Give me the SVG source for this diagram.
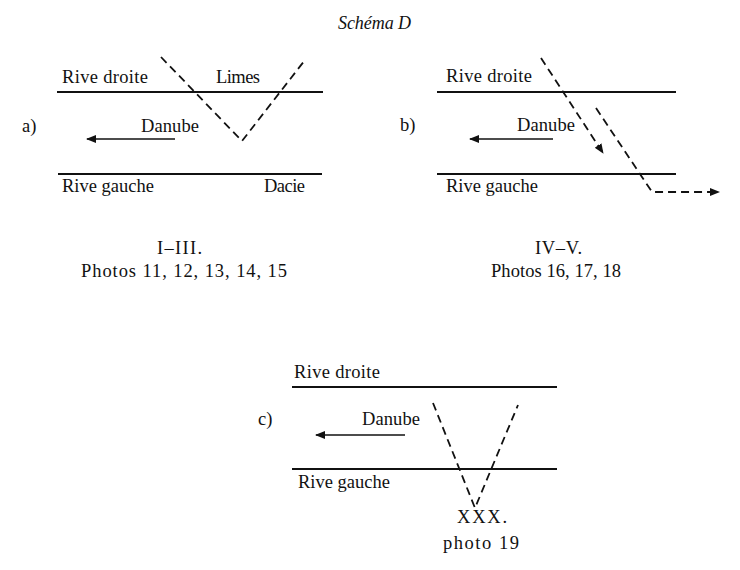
<svg xmlns="http://www.w3.org/2000/svg" width="740" height="570" viewBox="0 0 740 570">
<defs>
<marker id="ah" viewBox="0 0 10 10" refX="9" refY="5" markerWidth="10" markerHeight="10" markerUnits="userSpaceOnUse" orient="auto">
<path d="M0,1 L10,5 L0,9 Z" fill="#111"/>
</marker>
</defs>
<style>
text{font-family:"Liberation Serif","Times New Roman",serif;font-size:18.5px;fill:#111}
.t{font-style:italic;font-size:18px}
.bank{stroke:#111;stroke-width:2;fill:none}
.flow{stroke:#111;stroke-width:1.6;fill:none}
.dash{stroke:#111;stroke-width:1.8;fill:none;stroke-dasharray:8,5}
</style>
<rect width="740" height="570" fill="#fff"/>
<text class="t" x="338" y="29" textLength="73">Schéma D</text>

<g id="panel-a">
<line class="bank" x1="57" y1="92" x2="323" y2="92"/>
<line class="bank" x1="58" y1="174" x2="322" y2="174"/>
<text x="62" y="83" textLength="86">Rive droite</text>
<text x="216" y="83" textLength="44">Limes</text>
<text x="22" y="132">a)</text>
<text x="141" y="132" textLength="58">Danube</text>
<text x="62" y="192" textLength="92">Rive gauche</text>
<text x="264" y="192" textLength="41">Dacie</text>
<text x="157" y="254" textLength="45">I–III.</text>
<text x="81" y="277" textLength="206">Photos 11, 12, 13, 14, 15</text>
</g>

<g id="panel-b">
<line class="bank" x1="437" y1="92" x2="676" y2="92"/>
<line class="bank" x1="437" y1="174" x2="676" y2="174"/>
<text x="446" y="82" textLength="86">Rive droite</text>
<text x="400" y="131">b)</text>
<text x="517" y="131" textLength="58">Danube</text>
<text x="446" y="192" textLength="92">Rive gauche</text>
<text x="535" y="254" textLength="47">IV–V.</text>
<text x="491" y="277" textLength="130">Photos 16, 17, 18</text>
</g>

<g id="panel-c">
<line class="bank" x1="292" y1="387" x2="557" y2="387"/>
<line class="bank" x1="292" y1="469" x2="557" y2="469"/>
<text x="294" y="378" textLength="86">Rive droite</text>
<text x="258" y="425">c)</text>
<text x="362" y="425" textLength="58">Danube</text>
<text x="298" y="488" textLength="92">Rive gauche</text>
<text x="457" y="523" textLength="50">XXX.</text>
<text x="443" y="549" textLength="76">photo 19</text>
</g>

<g id="connectors">
<line class="flow" x1="175" y1="139" x2="87" y2="139" marker-end="url(#ah)"/>
<polyline class="dash" points="161,57 242,141 305,60"/>
<line class="flow" x1="553" y1="139" x2="470" y2="139" marker-end="url(#ah)"/>
<line class="dash" x1="541" y1="58" x2="603" y2="153" marker-end="url(#ah)"/>
<polyline class="dash" points="596,108 652,192 719,192" marker-end="url(#ah)"/>
<line class="flow" x1="405" y1="435" x2="316" y2="435" marker-end="url(#ah)"/>
<polyline class="dash" points="433,403 475,508 518,405"/>
</g>
</svg>
